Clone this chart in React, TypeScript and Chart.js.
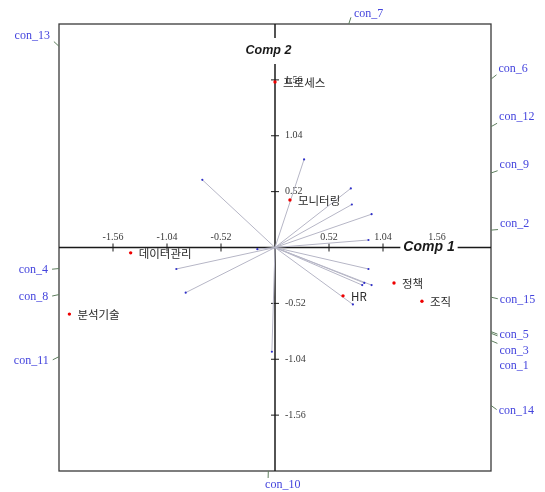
import React, { useEffect, useRef } from "react";
import { Chart, registerables } from "chart.js";

Chart.register(...registerables);

// Observations (red points)
const pointNames = ["프로세스", "모니터링", "데이터관리", "분석기술", "정책", "HR", "조직"];
const pointX = [0.0, 0.144, -1.39, -1.98, 1.146, 0.655, 1.415];
const pointY = [1.54, 0.442, -0.05, -0.62, -0.33, -0.45, -0.5];

// Variable vectors
const varNames = ["con_7", "con_13", "con_6", "con_12", "con_9", "con_2", "con_15", "con_3", "con_1", "con_5", "con_14", "con_8", "con_11", "con_10", "con_4"];
const vecX = [0.28, -0.7, 0.73, 0.74, 0.93, 0.9, 0.9, 0.86, 0.84, 0.93, 0.75, -0.95, -0.86, -0.03, -0.17];
const vecY = [0.82, 0.63, 0.55, 0.4, 0.31, 0.07, -0.2, -0.33, -0.35, -0.35, -0.53, -0.2, -0.42, -0.97, -0.016];

// Axis ticks
const xTicks = [-1.56, -1.04, -0.52, 0.52, 1.04, 1.56];
const yTicks = [1.56, 1.04, 0.52, -0.52, -1.04, -1.56];
const axisMin = -2.08;
const axisMax = 2.08;
const axisTitleX = "Comp 1";
const axisTitleY = "Comp 2";

const biplotPlugin = {
  id: "biplot",
  beforeDatasetsDraw(chart: any) {
    const { ctx, chartArea: a, scales } = chart;
    const xs = scales.x;
    const ys = scales.y;
    const x0 = xs.getPixelForValue(0);
    const y0 = ys.getPixelForValue(0);
    const line = (x1: number, y1: number, x2: number, y2: number) => {
      ctx.beginPath();
      ctx.moveTo(x1, y1);
      ctx.lineTo(x2, y2);
      ctx.stroke();
    };
    ctx.save();
    ctx.strokeStyle = "#3a3a3a";
    ctx.lineWidth = 1.3;
    ctx.strokeRect(a.left, a.top, a.right - a.left, a.bottom - a.top);
    ctx.strokeStyle = "#1a1a1a";
    ctx.lineWidth = 1.5;
    line(a.left, y0, a.right, y0);
    line(x0, a.top, x0, a.bottom);
    ctx.lineWidth = 1;
    ctx.fillStyle = "#3a3a3a";
    ctx.font = '10px "Liberation Serif"';
    xTicks.forEach((v) => {
      const px = xs.getPixelForValue(v);
      line(px, y0 - 4, px, y0 + 4);
      ctx.textAlign = "center";
      ctx.textBaseline = "alphabetic";
      ctx.fillText(v.toFixed(2), px, y0 - 7.5);
    });
    yTicks.forEach((v) => {
      const py = ys.getPixelForValue(v);
      line(x0 - 4, py, x0 + 4, py);
      ctx.textAlign = "left";
      ctx.textBaseline = "middle";
      ctx.fillText(v.toFixed(2), x0 + 10, py);
    });
    ctx.restore();
  },
  afterDatasetsDraw(chart: any) {
    const { ctx, chartArea: a, scales } = chart;
    const xs = scales.x;
    const ys = scales.y;
    const x0 = xs.getPixelForValue(0);
    const y0 = ys.getPixelForValue(0);
    ctx.save();
    ctx.font = '11.5px "Noto Sans CJK KR"';
    ctx.fillStyle = "#2a2a2a";
    ctx.textAlign = "left";
    ctx.textBaseline = "middle";
    pointNames.forEach((n, i) => {
      ctx.fillText(n, xs.getPixelForValue(pointX[i]) + 8, ys.getPixelForValue(pointY[i]) + 0.5);
    });
    const drawTitle = (t: string, font: string, cx: number, cy: number, padX: number, padY: number) => {
      ctx.font = font;
      const w = ctx.measureText(t).width;
      ctx.fillStyle = "#fff";
      ctx.fillRect(cx - w / 2 - padX, cy - padY, w + 2 * padX, 2 * padY);
      ctx.fillStyle = "#1a1a1a";
      ctx.textAlign = "center";
      ctx.textBaseline = "middle";
      ctx.fillText(t, cx, cy);
    };
    drawTitle(axisTitleY, 'bold italic 12.5px "Liberation Sans"', x0 - 6.5, a.top + 27, 4, 13);
    drawTitle(axisTitleX, 'bold italic 14px "Liberation Sans"', a.right - 62, y0, 3, 7);
    ctx.restore();
  },
  afterDraw(chart: any) {
    const { ctx, chartArea: a, scales } = chart;
    const xs = scales.x;
    const ys = scales.y;
    const x0 = xs.getPixelForValue(0);
    const y0 = ys.getPixelForValue(0);
    type Lab = { name: string; side: string; px: number; py: number; qx: number; qy: number; ty: number; up: boolean };
    const labs: Lab[] = [];
    varNames.forEach((name, i) => {
      const ex = xs.getPixelForValue(vecX[i]) - x0;
      const ey = ys.getPixelForValue(vecY[i]) - y0;
      let t = Infinity;
      let side = "";
      if (ex > 0) { const tt = (a.right - x0) / ex; if (tt < t) { t = tt; side = "right"; } }
      if (ex < 0) { const tt = (a.left - x0) / ex; if (tt < t) { t = tt; side = "left"; } }
      if (ey < 0) { const tt = (a.top - y0) / ey; if (tt < t) { t = tt; side = "top"; } }
      if (ey > 0) { const tt = (a.bottom - y0) / ey; if (tt < t) { t = tt; side = "bottom"; } }
      const px = x0 + ex * t;
      const py = y0 + ey * t;
      const len = Math.hypot(ex, ey);
      const qx = px + (ex / len) * 7;
      const qy = py + (ey / len) * 7;
      const up = ey < 0;
      let ty = qy;
      if (side === "right" || side === "left") ty = up ? qy - 6 : qy + 1;
      labs.push({ name, side, px, py, qx, qy, ty, up });
    });
    ["right", "left"].forEach((s) => {
      const group = labs.filter((l) => l.side === s).sort((p, q) => p.ty - q.ty);
      for (let k = 1; k < group.length; k++) {
        if (group[k].ty < group[k - 1].ty + 15.5) group[k].ty = group[k - 1].ty + 15.5;
      }
    });
    ctx.save();
    ctx.strokeStyle = "#5e7e5e";
    ctx.lineWidth = 1;
    ctx.font = '12px "Liberation Serif"';
    ctx.fillStyle = "#4444dd";
    labs.forEach((l) => {
      ctx.beginPath();
      ctx.moveTo(l.px, l.py);
      ctx.lineTo(l.qx, l.qy);
      ctx.stroke();
      if (l.side === "right") {
        ctx.textAlign = "left";
        ctx.textBaseline = "middle";
        ctx.fillText(l.name, l.qx + 2, l.ty);
      } else if (l.side === "left") {
        ctx.textAlign = "right";
        ctx.textBaseline = "middle";
        ctx.fillText(l.name, l.qx - 4, l.ty);
      } else if (l.side === "top") {
        ctx.textAlign = "left";
        ctx.textBaseline = "alphabetic";
        ctx.fillText(l.name, l.qx + 3, l.qy);
      } else {
        ctx.textAlign = "left";
        ctx.textBaseline = "top";
        ctx.fillText(l.name, l.qx - 3, l.qy + 1);
      }
    });
    ctx.restore();
  },
};

export default function App() {
  const ref = useRef<HTMLCanvasElement | null>(null);
  useEffect(() => {
    if (!ref.current) return;
    const pointsDs = {
      type: "scatter",
      label: "obs",
      data: pointX.map((x, i) => ({ x, y: pointY[i] })),
      pointRadius: 1.7,
      pointBackgroundColor: "#ee0000",
      pointBorderWidth: 0,
      showLine: false,
    };
    const vecDs = vecX.map((vx, i) => ({
      type: "scatter",
      label: varNames[i],
      data: [
        { x: 0, y: 0 },
        { x: vx, y: vecY[i] },
      ],
      showLine: true,
      borderColor: "#b6b6c6",
      borderWidth: 1,
      pointRadius: [0, 1.1],
      pointBackgroundColor: "#3030c8",
      pointBorderWidth: 0,
    }));
    const chart = new Chart(ref.current, {
      type: "scatter",
      data: { datasets: [pointsDs as any, ...(vecDs as any[])] },
      options: {
        animation: false,
        responsive: false,
        devicePixelRatio: 1,
        layout: { padding: { left: 59, right: 54, top: 24, bottom: 21 } },
        scales: {
          x: { type: "linear", min: axisMin, max: axisMax, display: false },
          y: { type: "linear", min: axisMin, max: axisMax, display: false },
        },
        plugins: { legend: { display: false }, tooltip: { enabled: false } },
      },
      plugins: [biplotPlugin],
    } as any);
    return () => chart.destroy();
  }, []);
  return (
    <div style={{ position: "absolute", left: 0, top: 0, width: 545, height: 492, background: "#fff" }}>
      <canvas ref={ref} width={545} height={492} style={{ width: 545, height: 492 }} />
    </div>
  );
}
